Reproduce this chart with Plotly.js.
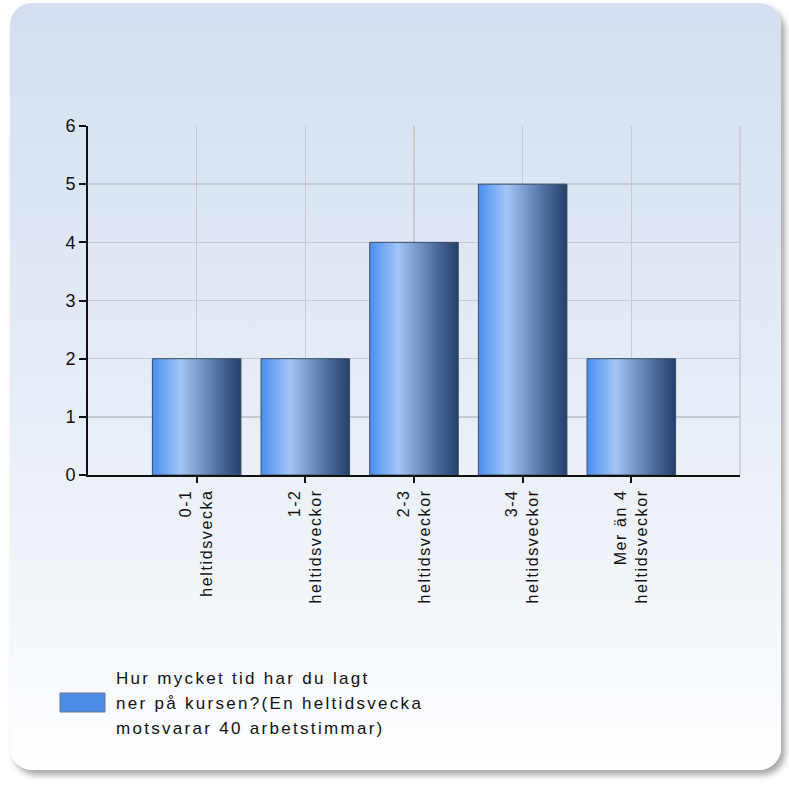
<!DOCTYPE html>
<html>
<head>
<meta charset="utf-8">
<script src="https://cdn.plot.ly/plotly-3.0.1.min.js"></script>
<style>
  html, body { margin: 0; padding: 0; width: 789px; height: 785px; background: #ffffff; overflow: hidden; }
  #card { position: absolute; left: 10px; top: 3px; width: 771px; height: 767px; border-radius: 22px;
          background: linear-gradient(to bottom, #d3dff0 0%, #e4ebf5 45%, #fdfeff 100%);
          box-shadow: 4px 5px 6px rgba(0,0,0,0.35); }
  #chart { position: absolute; left: 0; top: 0; width: 789px; height: 785px; }
  .annotation-text { letter-spacing: 2.3px; }
  .xtick text { letter-spacing: 1.6px; }
</style>
</head>
<body>
<div id="card"></div>
<div id="chart"></div>
<script>
var categories = ["0-1<br>heltidsvecka", "1-2<br>heltidsveckor", "2-3<br>heltidsveckor", "3-4<br>heltidsveckor", "Mer än 4<br>heltidsveckor"];
var values = [2, 2, 4, 5, 2];
var yTicks = [0, 1, 2, 3, 4, 5, 6];
var legendLines = ["Hur mycket tid har du lagt", "ner på kursen?(En heltidsvecka", "motsvarar 40 arbetstimmar)"];

var W = 789, H = 785;
var M = {l: 88, r: 49, t: 126, b: 310};
var PW = W - M.l - M.r, PH = H - M.t - M.b;
function px2x(px) { return (px - M.l) / PW; }
function py2y(py) { return (H - M.b - py) / PH; }

var gridColor = '#c6cad1';
var fontFam = '"Liberation Sans", Arial, sans-serif';
var textColor = '#111111';

var trace = {
  type: 'bar',
  x: categories,
  y: values,
  width: 0.815,
  marker: { color: '#4a8ee8', line: { color: '#3b4c66', width: 1 } },
  hoverinfo: 'x+y',
  showlegend: false
};

var annotations = legendLines.map(function (t, i) {
  return {
    text: t, xref: 'paper', yref: 'paper',
    x: px2x(114), y: py2y(678 + i * 25),
    xanchor: 'left', yanchor: 'middle', showarrow: false, align: 'left',
    font: { family: fontFam, size: 17, color: textColor }
  };
});

var shapes = [
  { type: 'line', xref: 'paper', yref: 'paper', x0: 1, x1: 1, y0: 0, y1: 1,
    line: { color: gridColor, width: 1.5 }, layer: 'below' },
  { type: 'rect', xref: 'paper', yref: 'paper', x0: px2x(60), x1: px2x(105), y0: py2y(712), y1: py2y(693),
    fillcolor: '#4a8ee8', line: { color: '#6c7686', width: 1 } }
];

var layout = {
  width: W, height: H,
  margin: M,
  paper_bgcolor: 'rgba(0,0,0,0)',
  plot_bgcolor: 'rgba(0,0,0,0)',
  showlegend: false,
  font: { family: fontFam, color: textColor },
  xaxis: {
    type: 'category', range: [-1, 5],
    showgrid: true, gridcolor: gridColor, gridwidth: 1.5,
    showline: true, linecolor: '#111111', linewidth: 2,
    ticks: 'outside', ticklen: 6, tickcolor: '#111111', tickwidth: 2,
    tickangle: -90,
    tickfont: { family: fontFam, size: 16, color: textColor },
    fixedrange: true
  },
  yaxis: {
    range: [0, 6], tickvals: yTicks,
    showgrid: true, gridcolor: gridColor, gridwidth: 1.5,
    zeroline: false,
    showline: true, linecolor: '#111111', linewidth: 2,
    ticks: 'outside', ticklen: 7, tickcolor: '#111111', tickwidth: 2,
    tickfont: { family: fontFam, size: 18, color: textColor },
    fixedrange: true
  },
  annotations: annotations,
  shapes: shapes
};

Plotly.newPlot('chart', [trace], layout, { displayModeBar: false, staticPlot: true }).then(function (gd) {
  var svg = gd.querySelector('.main-svg');
  var ns = 'http://www.w3.org/2000/svg';
  var defs = svg.querySelector('defs') || svg.insertBefore(document.createElementNS(ns, 'defs'), svg.firstChild);
  var grad = document.createElementNS(ns, 'linearGradient');
  grad.setAttribute('id', 'barGrad');
  grad.setAttribute('x1', '0'); grad.setAttribute('y1', '0');
  grad.setAttribute('x2', '1'); grad.setAttribute('y2', '0');
  [[0, '#4a8ef0'], [0.12, '#6aa4f2'], [0.32, '#a2c5f5'], [0.5, '#7fa1d2'], [0.75, '#4d6d9d'], [1, '#243f6a']].forEach(function (s) {
    var st = document.createElementNS(ns, 'stop');
    st.setAttribute('offset', s[0]);
    st.setAttribute('stop-color', s[1]);
    grad.appendChild(st);
  });
  defs.appendChild(grad);
  gd.querySelectorAll('.trace.bars .point path').forEach(function (p) {
    p.style.fill = 'url(#barGrad)';
    p.style.fillOpacity = '1';
  });
});
</script>
</body>
</html>
